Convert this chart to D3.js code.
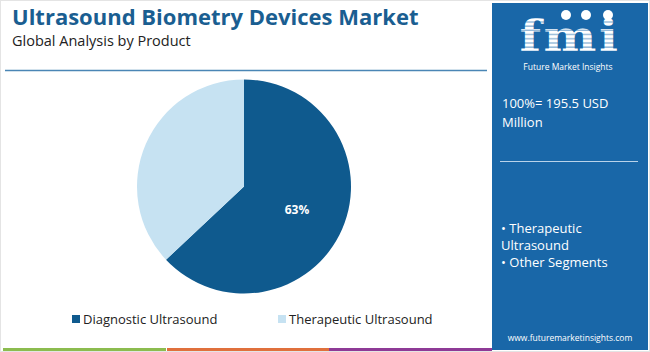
<!DOCTYPE html>
<html>
<head>
<meta charset="utf-8">
<script src="https://cdn.jsdelivr.net/npm/d3@7"></script>
<style>
  body { margin: 0; background: #fff; }
  svg { display: block; font-family: 'Open Sans', 'Noto Sans', sans-serif; }
</style>
</head>
<body>
<script>
// Chart data.
const categories = ['Diagnostic Ultrasound', 'Therapeutic Ultrasound'];
const shares = [63, 37];
const colours = ['#0f5a8e', '#c6e2f2'];
const totalLabel = ['100%= 195.5 USD', 'Million'];
const panelBullets = ['\u2022 Therapeutic', 'Ultrasound', '\u2022 Other Segments'];

const width = 650, height = 352;

const svg = d3.select('body')
    .append('svg')
    .attr('width', width)
    .attr('height', height);

// Frame.
svg.append('rect')
    .attr('x', 0.5).attr('y', 0.5)
    .attr('width', width - 1).attr('height', height - 1)
    .attr('fill', '#fff')
    .attr('stroke', '#e4e4e4');

// Title and subtitle.
svg.append('text')
    .attr('x', 12).attr('y', 25)
    .attr('font-size', '22px')
    .attr('font-weight', 'bold')
    .attr('fill', '#1a5e91')
    .text('Ultrasound Biometry Devices Market');

svg.append('text')
    .attr('x', 12).attr('y', 46)
    .attr('font-size', '14.5px')
    .attr('fill', '#222')
    .text('Global Analysis by Product');

// Line below header.
svg.append('line')
    .attr('x1', 5).attr('x2', 487)
    .attr('y1', 70.5).attr('y2', 70.5)
    .attr('stroke', '#4a86b5')
    .attr('stroke-width', 1.5);

// Pie.
const radius = 107;
const pie = d3.pie().sort(null).value(d => d);
const arc = d3.arc().innerRadius(0).outerRadius(radius);
const labelArc = d3.arc().innerRadius(radius * 1.08).outerRadius(0);

const g = svg.append('g')
    .attr('transform', 'translate(244,186.5)');

const arcs = pie(shares);

g.selectAll('path')
    .data(arcs)
    .join('path')
    .attr('d', arc)
    .attr('fill', (d, i) => colours[i]);

g.selectAll('.lbl')
    .data(arcs.filter((d, i) => i === 0))
    .join('text')
    .attr('class', 'lbl')
    .attr('transform', d => `translate(${labelArc.centroid(d)})`)
    .attr('text-anchor', 'middle')
    .attr('dy', '0.35em')
    .attr('font-size', '12px')
    .attr('font-weight', 'bold')
    .attr('fill', '#fff')
    .text(d => `${d.data}%`);

// Legend.
const legendX = [72, 278];
const legend = svg.selectAll('.legend')
    .data(categories)
    .join('g')
    .attr('class', 'legend')
    .attr('transform', (d, i) => `translate(${legendX[i]},315)`);

legend.append('rect')
    .attr('width', 8).attr('height', 8)
    .attr('fill', (d, i) => colours[i]);

legend.append('text')
    .attr('x', 11).attr('y', 8.5)
    .attr('font-size', '13px')
    .attr('fill', '#222')
    .text(d => d);

// Bottom colour strips.
const strips = [[3, 166, '#8cbc4f'], [167, 329, '#e0703c'], [329, 492, '#8e3a96']];
svg.selectAll('.strip')
    .data(strips)
    .join('rect')
    .attr('class', 'strip')
    .attr('x', d => d[0]).attr('y', 348)
    .attr('width', d => d[1] - d[0]).attr('height', 3)
    .attr('fill', d => d[2]);

// Right panel.
svg.append('rect')
    .attr('x', 492).attr('y', 3)
    .attr('width', 156).attr('height', 347)
    .attr('fill', '#1967a8');

// Logo.
const defs = svg.append('defs');
const pat = defs.append('pattern')
    .attr('id', 'stripes')
    .attr('patternUnits', 'userSpaceOnUse')
    .attr('width', 10).attr('height', 4);
pat.append('rect').attr('width', 10).attr('height', 3).attr('fill', '#fff');
pat.append('rect').attr('y', 3).attr('width', 10).attr('height', 1).attr('fill', '#8fb5d6');

svg.append('text')
    .attr('x', 570).attr('y', 51)
    .attr('text-anchor', 'middle')
    .attr('font-family', "'DejaVu Serif', serif")
    .attr('font-size', '40px')
    .attr('font-weight', 'bold')
    .attr('fill', 'url(#stripes)')
    .attr('letter-spacing', '2px')
    .attr('transform', 'translate(570,51) scale(1.25,1.05) translate(-570,-51)')
    .text('fmi');

[[566, 15], [586, 15], [608, 15]].forEach(c => {
    svg.append('circle')
        .attr('cx', c[0]).attr('cy', c[1]).attr('r', 5)
        .attr('fill', '#fff');
});

svg.append('text')
    .attr('x', 568).attr('y', 70)
    .attr('text-anchor', 'middle')
    .attr('font-size', '8.5px')
    .attr('fill', '#fff')
    .text('Future Market Insights');

// Panel texts.
svg.selectAll('.total')
    .data(totalLabel)
    .join('text')
    .attr('class', 'total')
    .attr('x', 502).attr('y', (d, i) => 108 + i * 19)
    .attr('font-size', '13px')
    .attr('fill', '#fff')
    .text(d => d);

svg.append('line')
    .attr('x1', 500).attr('x2', 638)
    .attr('y1', 161.5).attr('y2', 161.5)
    .attr('stroke', '#b9d3ea')
    .attr('stroke-width', 1);

svg.selectAll('.bullet')
    .data(panelBullets)
    .join('text')
    .attr('class', 'bullet')
    .attr('x', 501).attr('y', (d, i) => 233 + i * 17)
    .attr('font-size', '13px')
    .attr('fill', '#fff')
    .text(d => d);

svg.append('text')
    .attr('x', 570).attr('y', 341)
    .attr('text-anchor', 'middle')
    .attr('font-size', '8.5px')
    .attr('fill', '#fff')
    .text('www.futuremarketinsights.com');
</script>
</body>
</html>
